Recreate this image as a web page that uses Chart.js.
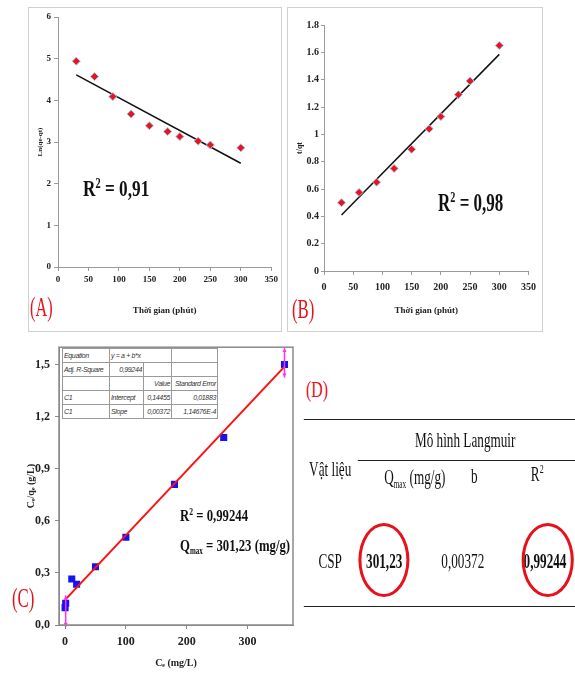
<!DOCTYPE html>
<html>
<head>
<meta charset="utf-8">
<script src="https://cdn.jsdelivr.net/npm/chart.js@4.4.1/dist/chart.umd.min.js"></script>
<style>
html, body { margin: 0; padding: 0; background: #fff; }
body { width: 575px; height: 675px; position: relative; overflow: hidden; font-family: "Liberation Serif", "Times New Roman", serif; color: #111; }
.frame { position: absolute; border: 1px solid #d0d0d0; box-sizing: border-box; }
canvas { position: absolute; }
.txt { position: absolute; white-space: nowrap; line-height: 1; transform-origin: 0 0; }
.bold { font-weight: bold; }
.red { color: #e8101a; }
sup { font-size: 0.6em; vertical-align: 0.6em; line-height: 0; }
sub { font-size: 0.55em; vertical-align: -0.35em; line-height: 0; }
#fitTable { position: absolute; left: 62px; top: 348px; width: 155px; border-collapse: collapse; table-layout: fixed; background: #fff;
  font: italic 7px "Liberation Sans Narrow", "Liberation Sans", sans-serif; color: #333; letter-spacing: -0.35px; }
#fitTable td { border: 1px solid #9a9a9a; height: 13px; padding: 0 1px; white-space: nowrap; overflow: hidden; }
#fitTable td.r { text-align: right; }
#panelD { position: absolute; left: 290px; top: 360px; width: 480px; height: 260px; transform: scaleX(0.6); transform-origin: 0 0; font-size: 22px; }
#panelD .c { position: absolute; white-space: nowrap; line-height: 1; transform: translateX(-50%); }
#panelD .hl { position: absolute; height: 0; border-top: 1.5px solid #222; }
#panelD .ring { position: absolute; border: 3px solid #e8101a; border-left-width: 5px; border-right-width: 5px; border-radius: 50%; box-sizing: border-box; }
</style>
</head>
<body>
<div class="frame" style="left:28px;top:7px;width:254px;height:325px"></div>
<div class="frame" style="left:287px;top:7px;width:256px;height:325px"></div>

<canvas id="chartA" width="253" height="324" style="left:28px;top:7px"></canvas>
<canvas id="chartB" width="255" height="324" style="left:287px;top:7px"></canvas>
<canvas id="chartC" width="300" height="340" style="left:0px;top:335px"></canvas>

<div class="txt bold" style="left:83px;top:177px;font-size:23px;transform:scaleX(0.75)">R<sup>2</sup> = 0,91</div>
<div class="txt bold" style="left:438px;top:190px;font-size:25px;transform:scaleX(0.68)">R<sup>2</sup> = 0,98</div>
<div class="txt bold" style="left:180px;top:507px;font-size:17px;transform:scaleX(0.75)">R<sup>2</sup> = 0,99244</div>
<div class="txt bold" style="left:180px;top:537px;font-size:17px;transform:scaleX(0.75)">Q<sub>max</sub> = 301,23 (mg/g)</div>

<div class="txt red" style="left:30px;top:293px;font-size:28px;transform:scaleX(0.58)">(A)</div>
<div class="txt red" style="left:292px;top:295px;font-size:28px;transform:scaleX(0.6)">(B)</div>
<div class="txt red" style="left:12px;top:584px;font-size:28px;transform:scaleX(0.6)">(C)</div>
<div class="txt red" style="left:306px;top:377px;font-size:24px;transform:scaleX(0.66)">(D)</div>

<table id="fitTable">
  <colgroup><col style="width:47px"><col style="width:34px"><col style="width:28px"><col style="width:46px"></colgroup>
  <tr><td>Equation</td><td colspan="2">y = a + b*x</td><td></td></tr>
  <tr><td>Adj. R-Square</td><td class="r">0,99244</td><td></td><td></td></tr>
  <tr><td></td><td></td><td class="r">Value</td><td class="r">Standard Error</td></tr>
  <tr><td>C1</td><td>Intercept</td><td class="r">0,14455</td><td class="r">0,01883</td></tr>
  <tr><td>C1</td><td>Slope</td><td class="r">0,00372</td><td class="r">1,14676E-4</td></tr>
</table>

<div id="panelD">
  <div class="hl" style="left:23px;width:452px;top:59px"></div>
  <div class="hl" style="left:113px;width:362px;top:100px"></div>
  <div class="hl" style="left:23px;width:452px;top:246px"></div>
  <div class="c" style="left:292px;top:69px">Mô hình Langmuir</div>
  <div class="c" style="left:67px;top:98px">Vật liệu</div>
  <div class="c" style="left:208px;top:106px">Q<sub>max</sub> (mg/g)</div>
  <div class="c" style="left:307px;top:105px">b</div>
  <div class="c" style="left:412px;top:103px">R<sup>2</sup></div>
  <div class="c" style="left:67px;top:190px">CSP</div>
  <div class="c bold" style="left:157px;top:190px">301,23</div>
  <div class="c" style="left:288px;top:190px">0,00372</div>
  <div class="c bold" style="left:425px;top:190px">0,99244</div>
  <div class="ring" style="left:114px;top:163px;width:85px;height:74px"></div>
  <div class="ring" style="left:386px;top:163px;width:87px;height:74px"></div>
</div>

<script>
// (A) pseudo first order: Ln(qe-qt) vs time
const timeA = [30, 60, 90, 120, 150, 180, 200, 230, 250, 300];
const lnA = [4.94, 4.57, 4.09, 3.67, 3.39, 3.25, 3.13, 3.02, 2.93, 2.86];
const fitTimeA = [30, 300];
const fitLnA = [4.61, 2.49];
const ticksAx = [0, 50, 100, 150, 200, 250, 300, 350];
const ticksAy = [0, 1, 2, 3, 4, 5, 6];

// (B) pseudo second order: t/qt vs time
const timeB = [30, 60, 90, 120, 150, 180, 200, 230, 250, 300];
const tqB = [0.50, 0.575, 0.65, 0.75, 0.89, 1.04, 1.13, 1.29, 1.39, 1.65];
const fitTimeB = [30, 300];
const fitTqB = [0.41, 1.585];
const ticksBx = [0, 50, 100, 150, 200, 250, 300, 350];
const ticksBy = [0, 0.2, 0.4, 0.6, 0.8, 1, 1.2, 1.4, 1.6, 1.8];

// (C) Langmuir: Ce/qe vs Ce
const ceC = [0, 1, 11, 19, 50, 100, 180, 261, 361];
const ceqeC = [0.10, 0.125, 0.265, 0.235, 0.335, 0.505, 0.81, 1.08, 1.50];
const fitCeC = [0, 361];
const fitCeqeC = [0.145, 1.488];
const errCeC = [1, 361];
const errLowC = [-0.01, 1.425];
const errHighC = [0.17, 1.595];
const ticksCx = [0, 100, 200, 300];
const ticksCy = [0, 0.3, 0.6, 0.9, 1.2, 1.5];

const SERIF = '"Liberation Serif", "Times New Roman", serif';
const toXY = (xs, ys) => xs.map((x, i) => ({ x: x, y: ys[i] }));

function axis(o) {
    return {
        type: 'linear',
        min: o.min,
        max: o.max,
        afterBuildTicks: s => { s.ticks = o.ticks.map(v => ({ value: v })); },
        afterFit: s => {
            if (o.width) s.width = o.width;
            if (o.height) s.height = o.height;
        },
        grid: { drawOnChartArea: false, drawTicks: true, tickLength: o.tickLength, color: o.color, lineWidth: 1 },
        border: { display: true, color: o.color, width: o.borderWidth || 1 },
        ticks: {
            padding: o.pad,
            color: '#222',
            font: { family: SERIF, size: o.fontSize, weight: 'bold' },
            callback: o.fmt || (v => String(Math.round(v * 10) / 10))
        },
        title: {
            display: true,
            text: o.title,
            color: '#222',
            font: { family: SERIF, size: o.titleSize, weight: 'bold' },
            padding: o.titlePad
        }
    };
}

const baseOptions = (pad, scales) => ({
    responsive: false,
    animation: false,
    layout: { padding: pad },
    plugins: { legend: { display: false }, tooltip: { enabled: false } },
    scales: scales
});

// frame + error bars for panel C
const framePlugin = {
    id: 'frame',
    afterDraw(chart) {
        const a = chart.chartArea, ctx = chart.ctx;
        ctx.save();
        ctx.strokeStyle = '#8a8a8a';
        ctx.lineWidth = 1.5;
        ctx.strokeRect(a.left, a.top, a.right - a.left, a.bottom - a.top);
        ctx.restore();
    }
};

const errorBarPlugin = {
    id: 'errorBars',
    afterDatasetsDraw(chart) {
        const ctx = chart.ctx, xs = chart.scales.x, ys = chart.scales.y;
        ctx.save();
        ctx.strokeStyle = '#ff33ee';
        ctx.fillStyle = '#ff33ee';
        ctx.lineWidth = 1.5;
        errCeC.forEach((ce, i) => {
            const px = xs.getPixelForValue(ce);
            const lo = ys.getPixelForValue(errLowC[i]);
            const hi = ys.getPixelForValue(errHighC[i]);
            ctx.beginPath();
            ctx.moveTo(px, lo);
            ctx.lineTo(px, hi);
            ctx.stroke();
            [[hi, 1], [lo, -1]].forEach(([py, d]) => {
                ctx.beginPath();
                ctx.moveTo(px, py);
                ctx.lineTo(px - 2, py + 4 * d);
                ctx.lineTo(px + 2, py + 4 * d);
                ctx.closePath();
                ctx.fill();
            });
        });
        ctx.restore();
    }
};

new Chart(document.getElementById('chartA'), {
    type: 'scatter',
    data: {
        datasets: [{
            data: toXY(timeA, lnA),
            pointStyle: 'rectRot',
            pointRadius: 4,
            backgroundColor: '#e8141c',
            borderColor: '#a9bde8',
            borderWidth: 1
        }, {
            data: toXY(fitTimeA, fitLnA),
            showLine: true,
            pointRadius: 0,
            borderColor: '#111',
            borderWidth: 1.5
        }]
    },
    options: baseOptions({ left: 0, top: 10, right: 9, bottom: 0 }, {
        x: axis({ min: 0, max: 350, ticks: ticksAx, height: 64, tickLength: 4, pad: 3, color: '#9a9a9a',
                  fontSize: 9, title: 'Thời gian (phút)', titleSize: 9, titlePad: { top: 0, bottom: 15 } }),
        y: axis({ min: 0, max: 6, ticks: ticksAy, width: 30, tickLength: 4, pad: 3, color: '#9a9a9a',
                  fontSize: 9, title: 'Ln(qe-qt)', titleSize: 7, titlePad: { top: 8, bottom: 0 } })
    })
});

new Chart(document.getElementById('chartB'), {
    type: 'scatter',
    data: {
        datasets: [{
            data: toXY(timeB, tqB),
            pointStyle: 'rectRot',
            pointRadius: 4,
            backgroundColor: '#e8141c',
            borderColor: '#a9bde8',
            borderWidth: 1
        }, {
            data: toXY(fitTimeB, fitTqB),
            showLine: true,
            pointRadius: 0,
            borderColor: '#111',
            borderWidth: 1.5
        }]
    },
    options: baseOptions({ left: 0, top: 18, right: 10, bottom: 0 }, {
        x: axis({ min: 0, max: 350, ticks: ticksBx, height: 60, tickLength: 4, pad: 6, color: '#9a9a9a',
                  fontSize: 10, title: 'Thời gian (phút)', titleSize: 9, titlePad: { top: 0, bottom: 15 } }),
        y: axis({ min: 0, max: 1.8, ticks: ticksBy, width: 37, tickLength: 3, pad: 2, color: '#9a9a9a',
                  fontSize: 10, title: 't/qt', titleSize: 8, titlePad: { top: 8, bottom: 0 } })
    })
});

const comma = v => v.toFixed(1).replace('.', ',');

new Chart(document.getElementById('chartC'), {
    type: 'scatter',
    data: {
        datasets: [{
            data: toXY(fitCeC, fitCeqeC),
            showLine: true,
            pointRadius: 0,
            borderColor: '#ff1010',
            borderWidth: 2
        }, {
            data: toXY(ceC, ceqeC),
            pointStyle: 'rect',
            pointRadius: 5,
            backgroundColor: '#1414f0',
            borderColor: '#1414f0',
            borderWidth: 0
        }]
    },
    options: baseOptions({ left: 0, top: 8, right: 7, bottom: 0 }, {
        x: axis({ min: -10, max: 375, ticks: ticksCx, height: 50, tickLength: 4, pad: 6, color: '#8a8a8a',
                  fontSize: 12, title: 'Cₑ (mg/L)', titleSize: 10, titlePad: { top: 0, bottom: 6 } }),
        y: axis({ min: 0, max: 1.6, ticks: ticksCy, width: 59, tickLength: 4, pad: 5, color: '#8a8a8a', fmt: comma,
                  fontSize: 12, title: 'Cₑ/qₑ (g/L)', titleSize: 10, titlePad: { top: 25, bottom: 0 } })
    }),
    plugins: [framePlugin, errorBarPlugin]
});
</script>
</body>
</html>
